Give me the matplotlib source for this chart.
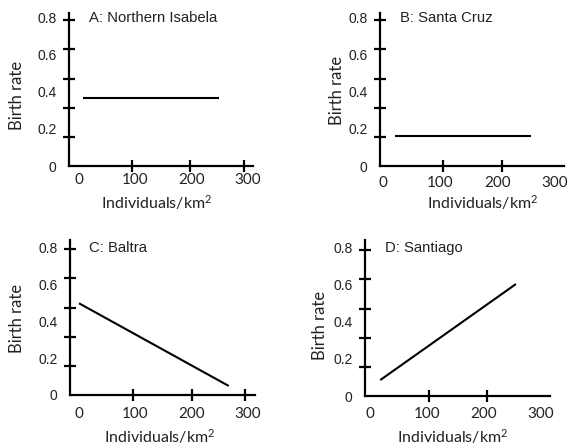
import matplotlib
matplotlib.use("Agg")
import matplotlib.pyplot as plt

W, H = 569, 447

# data
titles = ["A: Northern Isabela", "B: Santa Cruz", "C: Baltra", "D: Santiago"]
line_x = [[7, 249], [21, 258], [0, 266], [18, 257]]
line_y = [[0.366, 0.366], [0.16, 0.16], [0.497, 0.049], [0.086, 0.605]]
x_ticks = [0, 100, 200, 300]
y_ticks = [0, 0.2, 0.4, 0.6, 0.8]
y_tick_labels = ["0", "0.2", "0.4", "0.6", "0.8"]
x_label = r"Individuals/km$^\mathrm{2}$"
y_label = "Birth rate"

# layout (pixels, y from top): axis left, right, bottom, top
boxes = [(69, 253, 166, 13), (380, 564, 166, 13),
         (70, 255, 395, 240), (365, 550, 396, 240)]
xlims = [(-17.8, 309), (-5, 316), (-16, 312.6), (-8.8, 317)]
ylims = [(0, 0.827), (0, 0.827), (0, 0.84), (0, 0.843)]
x_marks = [[94, 197, 293], [105, 208, 300], [96, 201, 295], [104, 206, 300]]
y_marks = [0.157, 0.315, 0.472, 0.632, 0.79]
x_pads = [5, 7.5, 8.8, 8.2]
title_pos = [(89, 18), (400, 18), (89, 248), (385, 248)]
xlabel_pos = [(157, 209), (483, 209), (160, 443), (453, 443)]
ylabel_pos = [(17, 95), (337, 90), (17, 318), (320, 325)]

txt = "#222222"
label_font = "Lato"
tick_font = "Liberation Sans"

plt.rcParams["mathtext.fontset"] = "custom"
plt.rcParams["mathtext.rm"] = label_font
plt.rcParams["mathtext.it"] = label_font + ":italic"


def fx(x):
    return x / W


def fy(y):
    return 1 - y / H


fig = plt.figure(figsize=(W / 100, H / 100), dpi=100)

for i in range(4):
    l, r, b, t = boxes[i]
    ax = fig.add_axes([fx(l), fy(b), (r - l) / W, (b - t) / H])
    ax.plot(line_x[i], line_y[i], color="black", lw=1.5, solid_capstyle="butt")
    ax.set_xlim(*xlims[i])
    ax.set_ylim(*ylims[i])

    for s in ["top", "right"]:
        ax.spines[s].set_visible(False)
    for s in ["left", "bottom"]:
        ax.spines[s].set_linewidth(1.6)

    # labels sit where the numbers are, marks sit a bit off them
    ax.set_xticks(x_ticks)
    ax.set_xticklabels([str(v) for v in x_ticks], family=label_font,
                       fontsize=11, color=txt)
    ax.set_yticks(y_ticks)
    ax.set_yticklabels(y_tick_labels, family=tick_font, fontsize=10, color=txt)
    ax.tick_params(which="major", length=0)
    ax.tick_params(axis="y", which="major", pad=9)
    ax.tick_params(axis="x", which="major", pad=x_pads[i])
    ax.set_xticks(x_marks[i], minor=True)
    ax.set_yticks(y_marks, minor=True)
    ax.tick_params(which="minor", direction="inout", length=8, width=1.6)

    ax.set_xlabel(x_label, family=label_font, fontsize=11.5, color=txt)
    ax.xaxis.set_label_coords(fx(xlabel_pos[i][0]), fy(xlabel_pos[i][1]),
                              transform=fig.transFigure)
    ax.xaxis.label.set_va("baseline")
    ax.set_ylabel(y_label, family=label_font, fontsize=12, color=txt)
    ax.yaxis.set_label_coords(fx(ylabel_pos[i][0]), fy(ylabel_pos[i][1]),
                              transform=fig.transFigure)
    ax.yaxis.label.set_va("center")

    fig.text(fx(title_pos[i][0]), fy(title_pos[i][1]), titles[i],
             family=tick_font, fontsize=10.7, color=txt, ha="left", va="center")

fig.savefig("out.png", dpi=100)
